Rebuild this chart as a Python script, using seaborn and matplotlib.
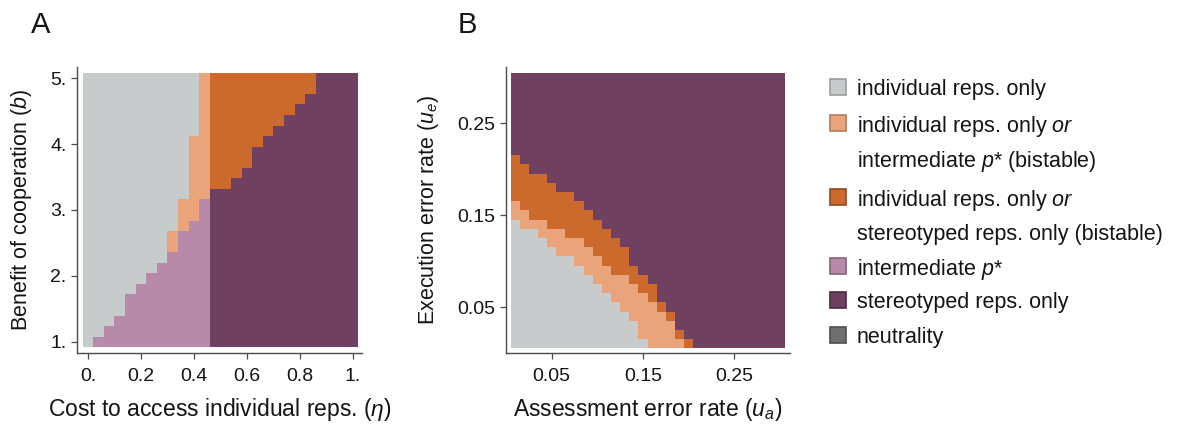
import numpy as np
import pandas as pd
import matplotlib
matplotlib.use("Agg")
import matplotlib.pyplot as plt
from matplotlib.colors import ListedColormap
from matplotlib.patches import Rectangle
import seaborn as sns

# ---------------------------------------------------------------------------
# Outcome categories (codes 0..5) and their colours
# ---------------------------------------------------------------------------
category_names = [
    "individual reps. only",
    "individual reps. only or intermediate p* (bistable)",
    "individual reps. only or stereotyped reps. only (bistable)",
    "intermediate p*",
    "stereotyped reps. only",
    "neutrality",
]
category_colors = ["#c8cbcc", "#e9a47c", "#cb6a2c", "#b88aa9", "#6f405f", "#707070"]
legend_edge_colors = ["#9a9c9d", "#b57a58", "#8f4a1f", "#86637a", "#4a2a40", "#4f4f4f"]
legend_lines = [
    ["individual reps. only"],
    ["individual reps. only $\\mathit{or}$", "intermediate $\\mathit{p}$* (bistable)"],
    ["individual reps. only $\\mathit{or}$", "stereotyped reps. only (bistable)"],
    ["intermediate $\\mathit{p}$*"],
    ["stereotyped reps. only"],
    ["neutrality"],
]

# ---------------------------------------------------------------------------
# Panel A: cost to access individual reputations (eta) vs benefit b
# ---------------------------------------------------------------------------
eta_values = np.round(np.linspace(0.0, 1.0, 26), 2)
b_values = np.round(np.linspace(1.0, 5.0, 26), 2)
# eta = 0.00 ... 0.44: rows (from b = 1) holding intermediate p*,
# then cumulative top of the bistable (individual / intermediate) band
a_pink_top = [0, 1, 2, 3, 5, 6, 7, 8, 9, 11, 12, 14]
a_salmon_top = [0, 1, 2, 3, 5, 6, 7, 8, 11, 14, 20, 26]
# eta = 0.48 ... 1.00: first row of the bistable (individual / stereotyped) region
a_orange_from = [15, 15, 16, 17, 19, 20, 21, 22, 23, 24, 26, 26, 26, 26]

# ---------------------------------------------------------------------------
# Panel B: assessment error u_a vs execution error u_e
# ---------------------------------------------------------------------------
ua_values = np.round(np.linspace(0.01, 0.30, 30), 2)
ue_values = np.round(np.linspace(0.01, 0.30, 30), 2)
# cumulative row counts (from u_e = 0.01) per u_a column
b_gray_top = [14, 13, 13, 12, 11, 10, 10, 9, 8, 7, 6, 5, 4, 3, 1,
              0, 0, 0, 0, 0, 0, 0, 0, 0, 0, 0, 0, 0, 0, 0]
b_salmon_top = [16, 15, 14, 14, 13, 13, 12, 12, 11, 10, 9, 8, 8, 7, 6,
                5, 4, 3, 1, 0, 0, 0, 0, 0, 0, 0, 0, 0, 0, 0]
b_orange_top = [21, 20, 19, 19, 18, 17, 17, 16, 15, 14, 13, 12, 11, 9, 8,
                7, 5, 4, 2, 1, 0, 0, 0, 0, 0, 0, 0, 0, 0, 0]


def build_panel_a():
    grid = np.zeros((len(b_values), len(eta_values)), dtype=int)
    n_left = len(a_pink_top)
    for j in range(len(eta_values)):
        for r in range(len(b_values)):
            if j < n_left:
                if r < a_pink_top[j]:
                    grid[r, j] = 3
                elif r < a_salmon_top[j]:
                    grid[r, j] = 1
                else:
                    grid[r, j] = 0
            else:
                grid[r, j] = 2 if r >= a_orange_from[j - n_left] else 4
    return pd.DataFrame(grid, index=b_values, columns=eta_values)


def build_panel_b():
    grid = np.zeros((len(ue_values), len(ua_values)), dtype=int)
    for j in range(len(ua_values)):
        for r in range(len(ue_values)):
            if r < b_gray_top[j]:
                grid[r, j] = 0
            elif r < b_salmon_top[j]:
                grid[r, j] = 1
            elif r < b_orange_top[j]:
                grid[r, j] = 2
            else:
                grid[r, j] = 4
    return pd.DataFrame(grid, index=ue_values, columns=ua_values)


panel_a = build_panel_a()
panel_b = build_panel_b()

# ---------------------------------------------------------------------------
# Styling
# ---------------------------------------------------------------------------
sns.set_style("white")
plt.rcParams["font.family"] = ["Liberation Sans", "DejaVu Sans"]
plt.rcParams["mathtext.fontset"] = "custom"
plt.rcParams["mathtext.rm"] = "Liberation Sans"
plt.rcParams["mathtext.it"] = "Liberation Sans:italic"
plt.rcParams["mathtext.bf"] = "Liberation Sans:bold"

TEXT = "#141414"
SPINE = "#4a4a4a"
cmap = ListedColormap(category_colors)

W, H = 1183, 430
fig = plt.figure(figsize=(W / 100, H / 100), dpi=100)
fig.patch.set_facecolor("white")


def px_axes(left, top, right, bottom):
    return fig.add_axes([left / W, 1 - bottom / H, (right - left) / W, (bottom - top) / H])


def style_axes(ax):
    for side in ("top", "right"):
        ax.spines[side].set_visible(False)
    for side in ("left", "bottom"):
        ax.spines[side].set_visible(True)
        ax.spines[side].set_color(SPINE)
        ax.spines[side].set_linewidth(1.0)
    ax.tick_params(axis="both", which="both", direction="out", length=4.5, width=0.9,
                   color=SPINE, labelcolor=TEXT, labelsize=14, left=True, bottom=True)
    ax.tick_params(axis="x", pad=6)
    ax.tick_params(axis="y", pad=3)


# ---------------- Panel A ----------------
axA = px_axes(77, 67, 362, 353)
sns.heatmap(panel_a, ax=axA, cmap=cmap, vmin=-0.5, vmax=5.5, cbar=False,
            xticklabels=False, yticklabels=False, linewidths=0, rasterized=True)


def eta_idx(v):
    return (v - eta_values[0]) / (eta_values[1] - eta_values[0]) + 0.5


def b_idx(v):
    return (v - b_values[0]) / (b_values[1] - b_values[0]) + 0.5


axA.set_xlim(eta_idx(-0.0415), eta_idx(1.034))
axA.set_ylim(b_idx(0.833), b_idx(5.167))
a_xticks = [0.0, 0.2, 0.4, 0.6, 0.8, 1.0]
a_xlabels = ["0.", "0.2", "0.4", "0.6", "0.8", "1."]
a_yticks = [1, 2, 3, 4, 5]
a_ylabels = ["1.", "2.", "3.", "4.", "5."]
axA.set_xticks([eta_idx(v) for v in a_xticks])
axA.set_xticklabels(a_xlabels, rotation=0)
axA.set_yticks([b_idx(v) for v in a_yticks])
axA.set_yticklabels(a_ylabels, rotation=0)
style_axes(axA)
axA.set_xlabel("Cost to access individual reps. ($\\mathit{\\eta}$)", fontsize=16.5,
               color=TEXT, labelpad=8)
axA.set_ylabel("Benefit of cooperation ($\\mathit{b}$)", fontsize=15.5, color=TEXT, labelpad=12)

# ---------------- Panel B ----------------
axB = px_axes(506, 67, 790, 353)
sns.heatmap(panel_b, ax=axB, cmap=cmap, vmin=-0.5, vmax=5.5, cbar=False,
            xticklabels=False, yticklabels=False, linewidths=0, rasterized=True)


def ua_idx(v):
    return (v - ua_values[0]) / (ua_values[1] - ua_values[0]) + 0.5


def ue_idx(v):
    return (v - ue_values[0]) / (ue_values[1] - ue_values[0]) + 0.5


axB.set_xlim(ua_idx(0.0), ua_idx(0.311))
axB.set_ylim(ue_idx(0.0), ue_idx(0.311))
b_ticks = [0.05, 0.15, 0.25]
b_ticklabels = ["0.05", "0.15", "0.25"]
axB.set_xticks([ua_idx(v) for v in b_ticks])
axB.set_xticklabels(b_ticklabels, rotation=0)
axB.set_yticks([ue_idx(v) for v in b_ticks])
axB.set_yticklabels(b_ticklabels, rotation=0)
style_axes(axB)
axB.set_xlabel("Assessment error rate ($\\mathit{u_a}$)", fontsize=16.5, color=TEXT, labelpad=8)
axB.set_ylabel("Execution error rate ($\\mathit{u_e}$)", fontsize=15.5, color=TEXT, labelpad=12)

# ---------------- Panel letters ----------------
fig.text(31 / W, 1 - 25 / H, "A", fontsize=21, color=TEXT, va="center", ha="left")
fig.text(458 / W, 1 - 25 / H, "B", fontsize=21, color=TEXT, va="center", ha="left")

# ---------------- Legend ----------------
swatch_x, swatch_size = 830, 16
text_x = 857
entry_line_y = [[87], [123, 158], [197, 232], [266], [300], [335]]
for color, edge, lines, ys in zip(category_colors, legend_edge_colors, legend_lines, entry_line_y):
    y0 = ys[0]
    fig.add_artist(Rectangle((swatch_x / W, 1 - (y0 + swatch_size / 2) / H),
                             swatch_size / W, swatch_size / H,
                             transform=fig.transFigure, facecolor=color,
                             edgecolor=edge, linewidth=1.2))
    for line, y in zip(lines, ys):
        fig.text(text_x / W, 1 - y / H, line, fontsize=15.5, color=TEXT,
                 va="center_baseline", ha="left")

fig.savefig("out.png", dpi=100, facecolor="white")
